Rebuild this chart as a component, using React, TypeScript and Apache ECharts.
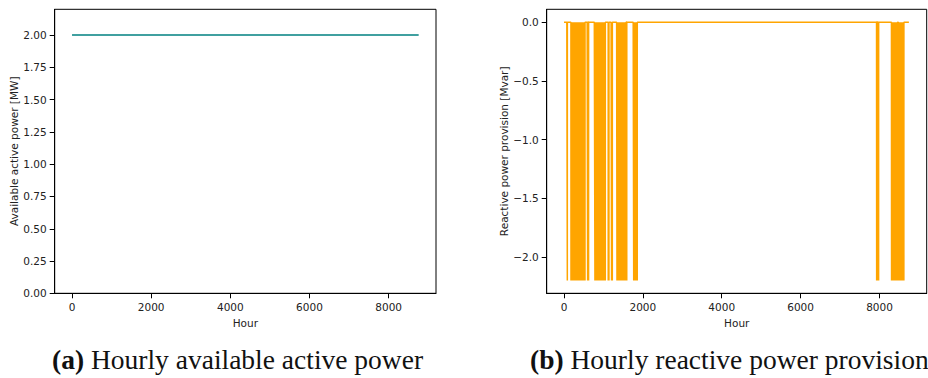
import React, { useEffect, useRef } from "react";
import * as echarts from "echarts";

// ---- Data ----
const TOTAL_HOURS = 8760;

// (a) available active power, constant over the year [MW]
const activeHours = [0, 8759];
const activeValues = [2.0, 2.0];

// (b) reactive power provision [Mvar]: hours at which the unit absorbs -2.2 Mvar,
// every other hour is 0.0
const reactiveLevel = -2.2;
const reactiveLowHours = [
  85,
  178, 196, 215, 233, 252, 271, 290, 309, 328, 347, 366, 385, 404, 423, 442, 461, 480, 499, 516, 533,
  600, 624,
  785, 803, 822, 841, 860, 879, 898, 917, 936, 955, 974, 993, 1012, 1031, 1048,
  1122, 1140,
  1207, 1226,
  1344, 1362, 1381, 1400, 1419, 1438, 1457, 1476, 1495, 1514, 1533, 1552, 1571, 1592,
  1768, 1787, 1806, 1825, 1843, 1858,
  7928, 7948, 7968, 7978,
  8306, 8324, 8343, 8362, 8381, 8400, 8419, 8438, 8457, 8478, 8497, 8516, 8535, 8554, 8573, 8592, 8611, 8618,
];

const xTicks = [0, 2000, 4000, 6000, 8000];
const activeYTicks = [0, 0.25, 0.5, 0.75, 1.0, 1.25, 1.5, 1.75, 2.0];
const reactiveYTicks = [-2.0, -1.5, -1.0, -0.5, 0.0];

const captionA = "Hourly available active power";
const captionB = "Hourly reactive power provision";

export default function App() {
  const ref = useRef<HTMLDivElement>(null);

  useEffect(() => {
    if (!ref.current) return;
    const chart = echarts.init(ref.current, undefined, { renderer: "svg" });

    const lowSet = new Set(reactiveLowHours);
    const reactiveData: [number, number][] = [];
    for (let h = 0; h < TOTAL_HOURS; h++) {
      reactiveData.push([h, lowSet.has(h) ? reactiveLevel : 0]);
    }
    const activeData = activeHours.map((h, i) => [h, activeValues[i]]);

    const xMin = -0.05 * (TOTAL_HOURS - 1);
    const xMax = (TOTAL_HOURS - 1) * 1.05;

    const tickFont = {
      fontFamily: "DejaVu Sans",
      fontSize: 10.5,
      color: "#222",
    };
    const axisLine = { show: true, onZero: false, lineStyle: { color: "#000", width: 1 } };
    const axisTick = { show: true, length: 5, lineStyle: { color: "#000", width: 1 } };
    const minus = (s: string) => s.replace("-", "\u2212");

    const makeX = (gridIndex: number) => ({
      type: "value",
      gridIndex,
      min: xMin,
      max: xMax,
      name: "Hour",
      nameLocation: "middle",
      nameGap: 20,
      nameTextStyle: { fontFamily: "DejaVu Sans", fontSize: 10.5, color: "#222" },
      axisLine,
      axisTick: { ...axisTick, customValues: xTicks },
      axisLabel: { ...tickFont, margin: 8, customValues: xTicks, formatter: (v: number) => String(v) },
      splitLine: { show: false },
    });

    const captionStyle = (label: string, text: string) => ({
      text: "{b|" + label + "} " + text,
      fontFamily: "Liberation Serif",
      fontSize: 27.5,
      fill: "#111",
      verticalAlign: "middle",
      rich: { b: { fontWeight: "bold", fontFamily: "Liberation Serif", fontSize: 27.5, fill: "#111" } },
    });

    chart.setOption({
      animation: false,
      grid: [
        { left: 54.7, top: 9.3, width: 381.3, height: 284, show: true, borderColor: "#000", borderWidth: 1, backgroundColor: "#fff" },
        { left: 546.7, top: 9.3, width: 380, height: 284, show: true, borderColor: "#000", borderWidth: 1, backgroundColor: "#fff" },
      ],
      xAxis: [makeX(0), makeX(1)],
      yAxis: [
        {
          type: "value",
          gridIndex: 0,
          min: 0,
          max: 2.2,
          name: "Available active power [MW]",
          nameLocation: "middle",
          nameGap: 35,
          nameTextStyle: { fontFamily: "DejaVu Sans", fontSize: 10.5, color: "#222" },
          axisLine,
          axisTick: { ...axisTick, customValues: activeYTicks },
          axisLabel: { ...tickFont, margin: 8, customValues: activeYTicks, formatter: (v: number) => v.toFixed(2) },
          splitLine: { show: false },
        },
        {
          type: "value",
          gridIndex: 1,
          min: -2.31,
          max: 0.11,
          name: "Reactive power provision [Mvar]",
          nameLocation: "middle",
          nameGap: 37,
          nameTextStyle: { fontFamily: "DejaVu Sans", fontSize: 10.5, color: "#222" },
          axisLine,
          axisTick: { ...axisTick, customValues: reactiveYTicks },
          axisLabel: { ...tickFont, margin: 8, customValues: reactiveYTicks, formatter: (v: number) => minus(v.toFixed(1)) },
          splitLine: { show: false },
        },
      ],
      series: [
        {
          type: "line",
          xAxisIndex: 0,
          yAxisIndex: 0,
          data: activeData,
          showSymbol: false,
          symbol: "none",
          silent: true,
          lineStyle: { color: "#008080", width: 1.5 },
        },
        {
          type: "line",
          xAxisIndex: 1,
          yAxisIndex: 1,
          data: reactiveData,
          showSymbol: false,
          symbol: "none",
          silent: true,
          lineStyle: { color: "#FFA500", width: 1.5, join: "bevel" },
        },
      ],
      graphic: [
        { type: "text", x: 52, y: 359, style: captionStyle("(a)", captionA) },
        { type: "text", x: 530, y: 359, style: captionStyle("(b)", captionB) },
      ],
    });

    return () => chart.dispose();
  }, []);

  return (
    <div
      ref={ref}
      style={{ position: "absolute", left: 0, top: 0, width: 928, height: 378, background: "#fff" }}
    />
  );
}
